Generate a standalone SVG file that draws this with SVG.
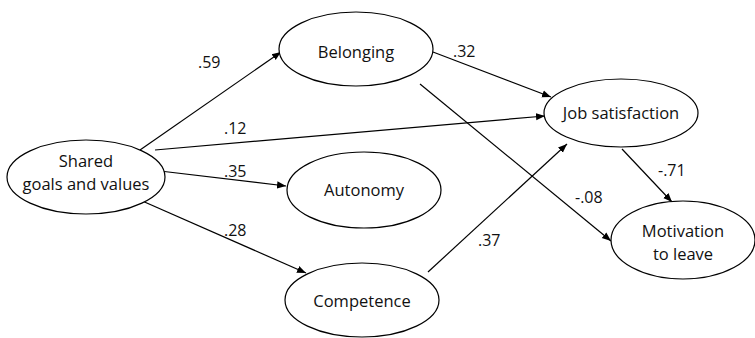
<svg xmlns="http://www.w3.org/2000/svg" width="755" height="338" viewBox="0 0 755 338">
<defs>
<marker id="ah" viewBox="0 0 10 10" refX="10" refY="5" markerWidth="9" markerHeight="9" markerUnits="userSpaceOnUse" orient="auto">
<path d="M0,1 L10,5 L0,9 Z" fill="#000"/>
</marker>
</defs>
<style>
.n{fill:#fff;stroke:#000;stroke-width:1.2}
.t{font-family:"Open Sans","Liberation Sans",sans-serif;font-size:16.5px;fill:#111;text-anchor:middle}
.e{stroke:#000;stroke-width:1.2;fill:none;marker-end:url(#ah)}
.l{font-family:"Open Sans","Liberation Sans",sans-serif;font-size:16px;fill:#111}
</style>
<rect width="755" height="338" fill="#fff"/>
<g id="connectors">
<line class="e" x1="140" y1="150" x2="281" y2="52"/>
<line class="e" x1="155" y1="150" x2="545" y2="116"/>
<line class="e" x1="160" y1="171" x2="286" y2="186"/>
<line class="e" x1="140" y1="200" x2="306" y2="273"/>
<line class="e" x1="433" y1="52" x2="551" y2="97"/>
<line class="e" x1="420" y1="84" x2="611" y2="241"/>
<line class="e" x1="428" y1="272" x2="567" y2="144"/>
<line class="e" x1="622" y1="149" x2="672" y2="202"/>
<text class="l" x="198" y="68">.59</text>
<text class="l" x="224" y="134">.12</text>
<text class="l" x="224" y="177">.35</text>
<text class="l" x="224" y="236">.28</text>
<text class="l" x="453" y="57">.32</text>
<text class="l" x="575" y="203">-.08</text>
<text class="l" x="478" y="246">.37</text>
<text class="l" x="658" y="176">-.71</text>
</g>
<g id="shared">
<ellipse class="n" cx="86" cy="177" rx="79" ry="37"/>
<text class="t" x="86" y="167">Shared</text>
<text class="t" x="86" y="190">goals and values</text>
</g>
<g id="belonging">
<ellipse class="n" cx="356" cy="49" rx="77" ry="37"/>
<text class="t" x="356" y="58">Belonging</text>
</g>
<g id="autonomy">
<ellipse class="n" cx="364" cy="190" rx="77" ry="38"/>
<text class="t" x="364" y="196">Autonomy</text>
</g>
<g id="competence">
<ellipse class="n" cx="362" cy="300" rx="77" ry="37"/>
<text class="t" x="362" y="307">Competence</text>
</g>
<g id="job">
<ellipse class="n" cx="621" cy="113" rx="77" ry="34"/>
<text class="t" x="621" y="119">Job satisfaction</text>
</g>
<g id="motivation">
<ellipse class="n" cx="683" cy="240" rx="72" ry="39"/>
<text class="t" x="683" y="237">Motivation</text>
<text class="t" x="683" y="260">to leave</text>
</g>
</svg>
